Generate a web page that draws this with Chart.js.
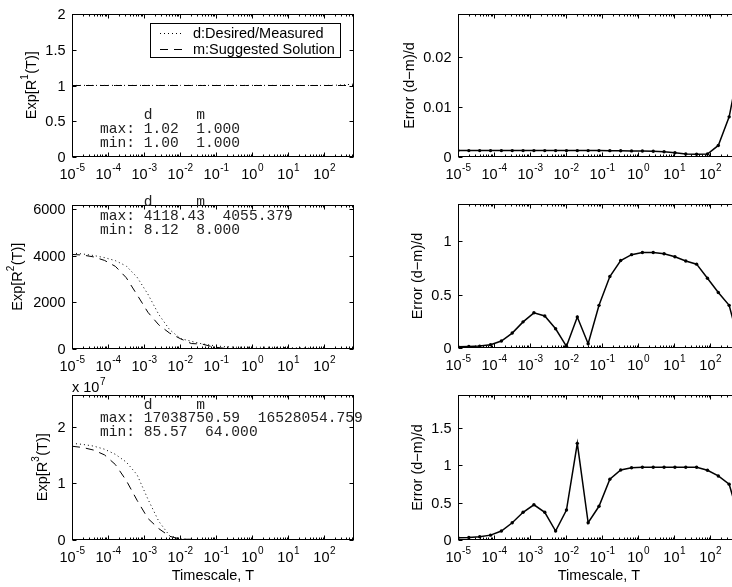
<!DOCTYPE html>
<html>
<head>
<meta charset="utf-8">
<title>Moments vs timescale</title>
<script src="https://cdn.jsdelivr.net/npm/chart.js@4.4.1/dist/chart.umd.min.js"></script>
<style>
  html, body { margin: 0; padding: 0; background: #fff; overflow: hidden; }
  #wrap { position: relative; width: 732px; height: 587px; overflow: hidden; }
  #wrap canvas { position: absolute; left: 0; top: 0; }
</style>
</head>
<body>
<div id="wrap">
  <canvas id="p1" width="760" height="587"></canvas>
  <canvas id="p2" width="760" height="587"></canvas>
  <canvas id="p3" width="760" height="587"></canvas>
  <canvas id="p4" width="760" height="587"></canvas>
  <canvas id="p5" width="760" height="587"></canvas>
  <canvas id="p6" width="760" height="587"></canvas>
</div>
<script>
// timescale samples (shared by all six panels)
const timescale = [1e-5, 2e-5, 4e-5, 8e-5, 1.6e-4, 3.2e-4, 6.4e-4, 1.28e-3, 2.56e-3, 5.12e-3,
  1.024e-2, 2.048e-2, 4.096e-2, 8.192e-2, 0.16384, 0.32768, 0.65536, 1.31072, 2.62144, 5.24288,
  10.48576, 20.97152, 41.94304, 83.88608, 167.77216, 335.54432, 671.08864];
const xTickExps = [-5, -4, -3, -2, -1, 0, 1, 2];

// first moment
const r1Desired = [1.0013, 1.0013, 1.0013, 1.0013, 1.0013, 1.0013, 1.0013, 1.0013, 1.0013, 1.0013,
  1.0013, 1.0013, 1.0013, 1.0013, 1.0013, 1.0013, 1.0012, 1.0012, 1.0012, 1.0011,
  1.0009, 1.0006, 1.0006, 1.0006, 1.0023, 1.0081, 1.0196];
const r1Suggested = [1, 1, 1, 1, 1, 1, 1, 1, 1, 1, 1, 1, 1, 1, 1, 1, 1, 1, 1, 1, 1, 1, 1, 1, 1, 1, 1];
const r1Error = [0.00128, 0.00128, 0.00128, 0.00128, 0.00128, 0.00128, 0.00128, 0.00128, 0.00128, 0.00128,
  0.00128, 0.00128, 0.00128, 0.00128, 0.00127, 0.00125, 0.00122, 0.0012, 0.00115, 0.00105,
  0.00085, 0.0006, 0.00055, 0.0006, 0.0023, 0.008, 0.019];

// second moment
const r2Desired = [4118.43, 4075, 4010, 3920, 3790, 3560, 3080, 2350, 1480, 830,
  450, 330, 220, 150, 100, 78, 72, 77, 77, 69,
  55, 43, 37.4, 23.1, 16.7, 13.3, 8.12];
const r2Suggested = [4055.379, 4030, 3950, 3800, 3545, 3060, 2325, 1575, 1035, 680,
  441, 234, 211, 90, 33, 14, 9, 8, 8, 8,
  8, 8, 8, 8, 8, 8, 8];
const r2Error = [0.012, 0.014, 0.018, 0.03, 0.065, 0.14, 0.245, 0.33, 0.30, 0.18,
  0.016, 0.29, 0.04, 0.40, 0.67, 0.82, 0.875, 0.896, 0.896, 0.884,
  0.855, 0.815, 0.786, 0.654, 0.52, 0.40, 0.015];

// third moment
const r3Desired = [17038750.59, 16850000, 16550000, 16000000, 15100000, 13750000, 11500000, 7200000, 3300000, 750000,
  220000, 60000, 18000, 6500, 3200, 2100, 1830, 2130, 2130, 2130,
  2130, 2130, 2130, 914, 441, 251, 85.57];
const r3Suggested = [16528054.759, 16300000, 15850000, 15000000, 13300000, 10500000, 7000000, 3800000, 2000000, 660000,
  130000, 136000, 13900, 3600, 610, 140, 65, 64, 64, 64,
  64, 64, 64, 64, 64, 64, 64];
const r3Error = [0.03, 0.035, 0.044, 0.065, 0.12, 0.23, 0.37, 0.47, 0.37, 0.12,
  0.40, 1.29, 0.23, 0.45, 0.81, 0.935, 0.965, 0.97, 0.97, 0.97,
  0.97, 0.97, 0.97, 0.93, 0.855, 0.745, 0.25];

const W = 760, H = 587;
const SANS = "'Liberation Sans', Arial, Helvetica, sans-serif";
const MONO = "'Liberation Mono', 'Courier New', monospace";
const dotted = [1, 3];
const dashed = [8, 6];

function stats(d, m) {
  const dmax = Math.max(...d), dmin = Math.min(...d);
  const mmax = Math.max(...m), mmin = Math.min(...m);
  return ['     d     m',
    'max: ' + dmax.toFixed(2) + '  ' + mmax.toFixed(3),
    'min: ' + dmin.toFixed(2) + '  ' + mmin.toFixed(3)];
}

const panels = [
  { id: 'p1', area: [72, 14, 354, 157], yMax: 2, yTicks: [0, 0.5, 1, 1.5, 2], yLabels: ['0', '0.5', '1', '1.5', '2'],
    title: ['Exp[R', '1', '(T)]'], titleX: 36, legend: true,
    notes: stats(r1Desired, r1Suggested), notesY: [115.5, 129.5, 143.5],
    series: [{ label: 'd:Desired/Measured', values: r1Desired, dash: dotted },
             { label: 'm:Suggested Solution', values: r1Suggested, dash: dashed }] },
  { id: 'p2', area: [458, 14, 740, 157], yMax: 0.0285, yTicks: [0, 0.01, 0.02], yLabels: ['0', '0.01', '0.02'],
    title: ['Error (d\u2212m)/d'], titleX: 413.5,
    series: [{ label: 'error', values: r1Error, marker: true }] },
  { id: 'p3', area: [72, 205, 354, 349], yMax: 6177, yTicks: [0, 2000, 4000, 6000], yLabels: ['0', '2000', '4000', '6000'],
    title: ['Exp[R', '2', '(T)]'], titleX: 22,
    notes: stats(r2Desired, r2Suggested), notesY: [202, 216.5, 230.5],
    series: [{ label: 'd:Desired/Measured', values: r2Desired, dash: dotted },
             { label: 'm:Suggested Solution', values: r2Suggested, dash: dashed }] },
  { id: 'p4', area: [458, 204, 740, 348], yMax: 1.35, yTicks: [0, 0.5, 1], yLabels: ['0', '0.5', '1'],
    title: ['Error (d\u2212m)/d'], titleX: 422,
    series: [{ label: 'error', values: r2Error, marker: true }] },
  { id: 'p5', area: [72, 395, 354, 540], yMax: 2.556e7, yTicks: [0, 1e7, 2e7], yLabels: ['0', '1', '2'],
    title: ['Exp[R', '3', '(T)]'], titleX: 47, multiplier: '7', xTitle: true,
    notes: stats(r3Desired, r3Suggested), notesY: [405, 418.5, 432],
    series: [{ label: 'd:Desired/Measured', values: r3Desired, dash: dotted },
             { label: 'm:Suggested Solution', values: r3Suggested, dash: dashed }] },
  { id: 'p6', area: [458, 395, 740, 540], yMax: 1.935, yTicks: [0, 0.5, 1, 1.5], yLabels: ['0', '0.5', '1', '1.5'],
    title: ['Error (d\u2212m)/d'], titleX: 422, xTitle: true,
    series: [{ label: 'error', values: r3Error, marker: true }] }
];

// draws the matlab style box, inward ticks, labels, legend and notes
function axesPlugin(p) {
  return {
    id: 'matlabAxes',
    afterDraw(chart) {
      const { ctx, chartArea: a, scales: { x, y } } = chart;
      const L = Math.round(a.left) + 0.5, R = Math.round(a.right) - 0.5;
      const T = Math.round(a.top) + 0.5, B = Math.round(a.bottom) - 0.5;
      ctx.save();
      ctx.strokeStyle = '#000';
      ctx.fillStyle = '#000';
      ctx.lineWidth = 1;
      ctx.setLineDash([]);
      ctx.strokeRect(L, T, R - L, B - T);

      // x ticks, major + minor, top and bottom
      ctx.beginPath();
      xTickExps.forEach(e => {
        for (let m = 1; m <= 9; m++) {
          const v = m * Math.pow(10, e);
          if (v > x.max * 1.0001) break;
          const px = Math.round(x.getPixelForValue(v)) + 0.5;
          const len = m === 1 ? 4 : 2;
          ctx.moveTo(px, B); ctx.lineTo(px, B - len);
          ctx.moveTo(px, T); ctx.lineTo(px, T + len);
        }
      });
      // y ticks, left and right
      p.yTicks.forEach(v => {
        const py = Math.round(y.getPixelForValue(v)) + 0.5;
        ctx.moveTo(L, py); ctx.lineTo(L + 4, py);
        ctx.moveTo(R, py); ctx.lineTo(R - 4, py);
      });
      ctx.stroke();

      // x tick labels 10^e
      const base = '14.5px ' + SANS, sup = '10px ' + SANS;
      ctx.textBaseline = 'alphabetic';
      ctx.textAlign = 'left';
      xTickExps.forEach(e => {
        const px = x.getPixelForValue(Math.pow(10, e));
        ctx.font = base;
        const w1 = ctx.measureText('10').width;
        ctx.font = sup;
        const es = String(e);
        const w2 = ctx.measureText(es).width;
        const sx = px - (w1 + w2) / 2;
        ctx.font = base;
        ctx.fillText('10', sx, a.bottom + 22);
        ctx.font = sup;
        ctx.fillText(es, sx + w1 + 0.5, a.bottom + 14);
      });

      // y tick labels
      ctx.font = base;
      ctx.textAlign = 'right';
      ctx.textBaseline = 'middle';
      p.yTicks.forEach((v, i) => {
        ctx.fillText(p.yLabels[i], a.left - 6.5, y.getPixelForValue(v) + 1);
      });

      // exponent multiplier above axis
      if (p.multiplier) {
        ctx.textAlign = 'left';
        ctx.textBaseline = 'alphabetic';
        ctx.font = base;
        const w = ctx.measureText('x 10').width;
        ctx.fillText('x 10', a.left, a.top - 3);
        ctx.font = sup;
        ctx.fillText(p.multiplier, a.left + w + 0.5, a.top - 10);
      }

      // y title, rotated, with optional superscript
      ctx.save();
      const cy = (a.top + a.bottom) / 2;
      ctx.translate(p.titleX, cy);
      ctx.rotate(-Math.PI / 2);
      ctx.textAlign = 'left';
      ctx.textBaseline = 'alphabetic';
      const parts = p.title;
      const widths = parts.map((s, i) => { ctx.font = i === 1 ? sup : base; return ctx.measureText(s).width; });
      let tx = -widths.reduce((s, w) => s + w, 0) / 2;
      parts.forEach((s, i) => {
        ctx.font = i === 1 ? sup : base;
        ctx.fillText(s, tx, i === 1 ? -8 : 0);
        tx += widths[i] + (i === 1 ? 0.5 : 0);
      });
      ctx.restore();

      // x title
      if (p.xTitle) {
        ctx.font = base;
        ctx.textAlign = 'center';
        ctx.textBaseline = 'alphabetic';
        ctx.fillText('Timescale, T', (a.left + a.right) / 2, 580);
      }

      // d / m summary text
      if (p.notes) {
        ctx.font = '14.6px ' + MONO;
        ctx.textAlign = 'left';
        ctx.textBaseline = 'middle';
        ctx.fillStyle = '#222';
        p.notes.forEach((s, i) => ctx.fillText(s, 100, p.notesY[i]));
        ctx.fillStyle = '#000';
      }

      // legend box
      if (p.legend) {
        const bx = 150.5, by = 23.5, bw = 190, bh = 34;
        ctx.fillStyle = '#fff';
        ctx.fillRect(bx, by, bw, bh);
        ctx.strokeStyle = '#000';
        ctx.strokeRect(bx, by, bw, bh);
        ctx.font = base;
        ctx.textAlign = 'left';
        ctx.textBaseline = 'middle';
        chart.data.datasets.forEach((ds, i) => {
          const ly = Math.round(by + 9 + i * 16) + 0.5;
          ctx.setLineDash(ds.borderDash || []);
          ctx.beginPath();
          ctx.moveTo(160, ly); ctx.lineTo(183, ly);
          ctx.stroke();
          ctx.setLineDash([]);
          ctx.fillStyle = '#000';
          ctx.fillText(ds.label, 193, ly + 0.5);
        });
      }
      ctx.restore();
    }
  };
}

function makePanel(p) {
  const canvas = document.getElementById(p.id);
  return new Chart(canvas, {
    type: 'line',
    data: {
      datasets: p.series.map(s => ({
        label: s.label,
        data: timescale.map((t, i) => ({ x: t, y: s.values[i] })),
        borderColor: '#000',
        borderWidth: s.marker ? 1.5 : 1,
        borderDash: s.dash || [],
        pointRadius: s.marker ? 1.7 : 0,
        pointBackgroundColor: '#000',
        pointBorderWidth: 0,
        tension: 0,
        fill: false
      }))
    },
    options: {
      responsive: false,
      animation: false,
      events: [],
      layout: { padding: { left: p.area[0], top: p.area[1], right: W - p.area[2], bottom: H - p.area[3] } },
      scales: {
        x: { type: 'logarithmic', display: false, min: timescale[0], max: timescale[timescale.length - 1] },
        y: { type: 'linear', display: false, min: 0, max: p.yMax }
      },
      plugins: { legend: { display: false }, tooltip: { enabled: false } }
    },
    plugins: [axesPlugin(p)]
  });
}

panels.forEach(makePanel);
</script>
</body>
</html>
